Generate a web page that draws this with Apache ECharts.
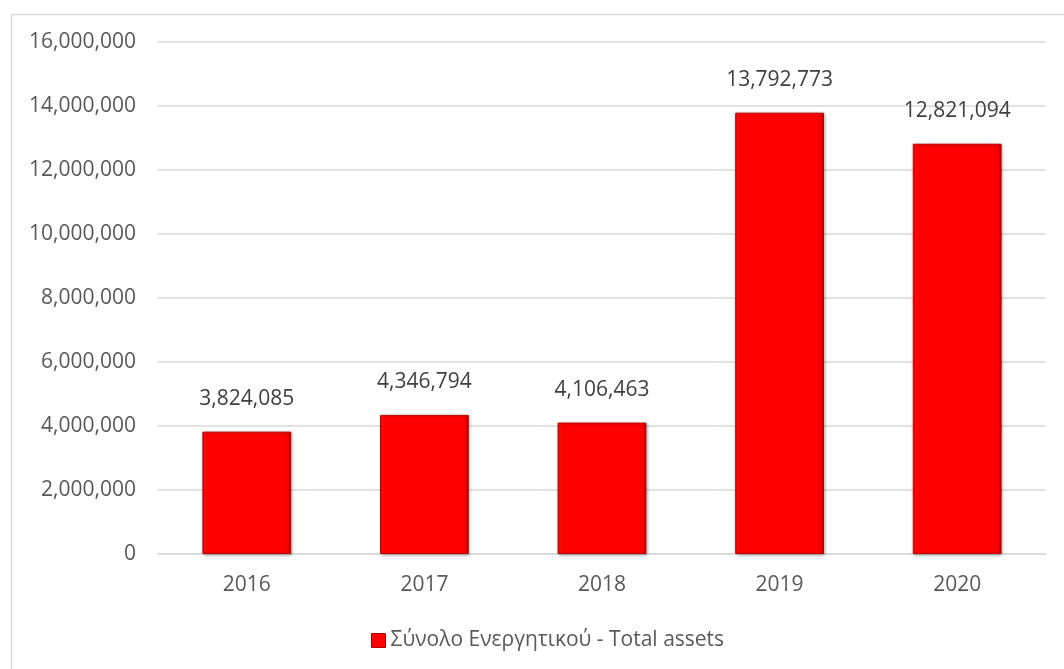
<!DOCTYPE html>
<html>
<head>
<meta charset="utf-8">
<script src="https://cdn.jsdelivr.net/npm/echarts@6/dist/echarts.min.js"></script>
<style>
  html, body { margin: 0; padding: 0; background: #ffffff; }
  #chart { width: 1064px; height: 669px; }
</style>
</head>
<body>
<div id="chart"></div>
<script>
// Total assets per year
const years = ['2016', '2017', '2018', '2019', '2020'];
const totalAssets = [3824085, 4346794, 4106463, 13792773, 12821094];
const seriesName = 'Σύνολο Ενεργητικού - Total assets';

const FONT = '"Open Sans", "Noto Sans", sans-serif';
const FS = 21;
const fmt = v => Number(v).toLocaleString('en-US');

const chart = echarts.init(document.getElementById('chart'), null, { renderer: 'canvas' });

// bevelled red fill: flat bright core with thin darker edges
const barFill = new echarts.graphic.LinearGradient(0, 0, 1, 0, [
  { offset: 0, color: '#d80000' },
  { offset: 0.025, color: '#ff1010' },
  { offset: 0.06, color: '#ff0000' },
  { offset: 0.94, color: '#ff0000' },
  { offset: 0.975, color: '#e80000' },
  { offset: 1, color: '#a80000' }
]);

chart.setOption({
  animation: false,
  backgroundColor: '#ffffff',
  graphic: [{
    type: 'rect',
    left: 9, top: 12,
    shape: { width: 1100, height: 700 },
    style: { fill: 'none', stroke: '#d9d9d9', lineWidth: 1.5 },
    silent: true, z: -1
  }],
  grid: { left: 158, right: 18, top: 42, bottom: 115, containLabel: false },
  legend: {
    bottom: 13,
    left: 366,
    itemWidth: 14, itemHeight: 14, itemGap: 6,
    icon: 'rect',
    itemStyle: { borderColor: '#b00000', borderWidth: 1 },
    textStyle: { fontFamily: FONT, fontSize: FS, color: '#595959' },
    data: [seriesName]
  },
  xAxis: {
    type: 'category',
    data: years,
    axisLine: { show: true, lineStyle: { color: '#d9d9d9', width: 1.5 } },
    axisTick: { show: false },
    axisLabel: { fontFamily: FONT, fontSize: FS, color: '#595959', margin: 21 }
  },
  yAxis: {
    type: 'value',
    min: 0, max: 16000000, interval: 2000000,
    axisLine: { show: false },
    axisTick: { show: false },
    splitLine: { lineStyle: { color: '#d9d9d9', width: 1.5 } },
    axisLabel: {
      fontFamily: FONT, fontSize: FS, color: '#595959', margin: 22,
      formatter: v => fmt(v)
    }
  },
  series: [{
    name: seriesName,
    type: 'bar',
    data: totalAssets,
    barWidth: '50%',
    itemStyle: {
      color: barFill,
      borderColor: '#c00000',
      borderWidth: 1,
      shadowColor: 'rgba(0,0,0,0.3)',
      shadowBlur: 3,
      shadowOffsetX: 1,
      shadowOffsetY: 1
    },
    label: {
      show: true,
      position: 'top',
      distance: 22,
      fontFamily: FONT, fontSize: FS, color: '#404040',
      formatter: p => fmt(p.value)
    }
  }]
});
</script>
</body>
</html>
